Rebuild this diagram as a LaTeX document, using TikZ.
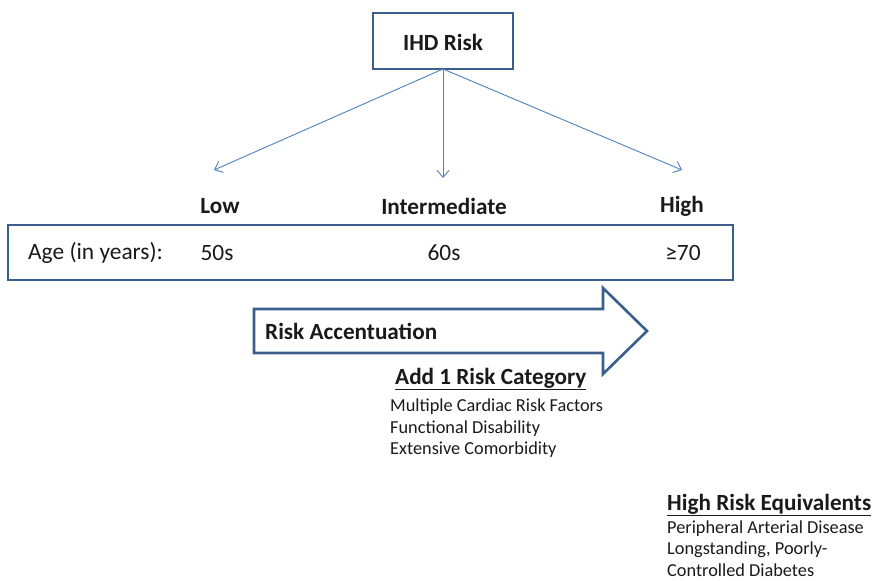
\documentclass[tikz,border=0pt]{standalone}
\usepackage{fontspec}
\setmainfont{Carlito}
\usetikzlibrary{arrows.meta}
\definecolor{boxblue}{HTML}{3B5E8C}
\definecolor{linkblue}{HTML}{4F81BD}
\definecolor{ink}{HTML}{1A1A1A}
\begin{document}
\begin{tikzpicture}[x=1pt,y=-1pt,
  frame/.style={draw=boxblue,line width=2.6pt,fill=white},
  link/.style={draw=linkblue,line width=0.9pt,-{Straight Barb[length=7pt,width=12pt,line width=0.9pt]}},
  lbl/.style={text=ink,font=\fontsize{23.2}{26}\selectfont\bfseries,inner sep=0pt},
  txt/.style={text=ink,font=\fontsize{23.4}{26}\selectfont,inner sep=0pt},
  small/.style={text=ink,font=\fontsize{18.3}{21.5}\selectfont,inner sep=0pt,anchor=west}]
\useasboundingbox (0,0) rectangle (873,581);

% top box
\draw[frame] (373,13) rectangle (513,69);
\node[lbl] (ihd) at (443,42) {IHD Risk};
\coordinate (src) at (443,69);

% targets of the three branches
\coordinate (tlow) at (214,170);
\coordinate (tmid) at (443,178);
\coordinate (thigh) at (682,170);
\draw[link] (src) -- (tlow);
\draw[link] (src) -- (tmid);
\draw[link] (src) -- (thigh);

% category headings
\node[lbl] (low) at (220,206) {Low};
\node[lbl] (mid) at (444,206) {Intermediate};
\node[lbl] (high) at (682,206) {High};

% age row
\draw[frame] (8,225) rectangle (733,280);
\node[txt,anchor=west] (age) at (28,253) {Age (in years):};
\node[txt] (a50) at (217,253) {50s};
\node[txt] (a60) at (444,253) {60s};
\node[txt] (a70) at (683,253) {≥70};

% accentuation arrow
\draw[frame,line join=miter] (254,309) -- (603,309) -- (603,288) -- (647,331)
  -- (603,374) -- (603,353) -- (254,353) -- cycle;
\node[lbl,anchor=west] (acc) at (265,331) {Risk Accentuation};

% add one category
\node[lbl,anchor=west] (add) at (395,379) {\underline{Add 1 Risk Category}};
\node[small] (add1) at (390,407) {Multiple Cardiac Risk Factors};
\node[small] (add2) at (390,428.5) {Functional Disability};
\node[small] (add3) at (390,450) {Extensive Comorbidity};

% high risk equivalents
\node[lbl,anchor=west] (eqv) at (667,505) {\underline{High Risk Equivalents}};
\node[small] (eqv1) at (667,528.5) {Peripheral Arterial Disease};
\node[small] (eqv2) at (667,549.5) {Longstanding, Poorly-};
\node[small] (eqv3) at (667,570.5) {Controlled Diabetes};
\end{tikzpicture}
\end{document}
